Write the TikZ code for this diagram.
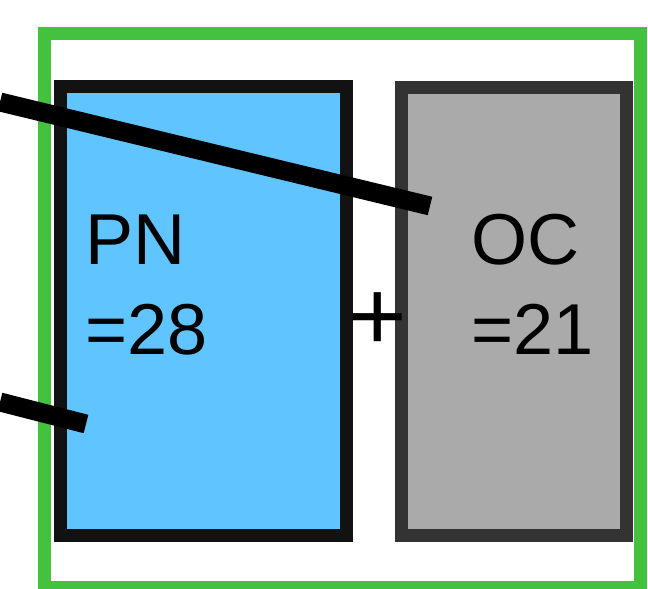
\documentclass[tikz,border=0pt]{standalone}
\usepackage{fontspec}
\setmainfont{Liberation Sans}
\usepackage{tikz}
\usetikzlibrary{positioning}

\definecolor{framegreen}{RGB}{68,194,63}
\definecolor{pnblue}{RGB}{96,197,255}
\definecolor{ocgray}{RGB}{170,170,170}

\begin{document}
\begin{tikzpicture}[x=0.01cm, y=-0.01cm,
    box/.style={draw, rectangle, line width=3.7pt, inner sep=0pt},
    boxtext/.style={anchor=base west, align=left, inner sep=0pt, font=\fontsize{20.5}{25.6}\selectfont},
    wire/.style={line width=5.4pt, line cap=butt}]
  \useasboundingbox (0,0) rectangle (648,589);
  % frame and the two boxes
  \node[box, draw=framegreen, minimum width=5.95cm, minimum height=5.53cm] (frame) at (342.5,310.5) {};
  \node[box, draw=black!93, fill=pnblue, minimum width=2.85cm, minimum height=4.48cm] (pn) at (203.5,311) {};
  \node[box, draw=black!80, fill=ocgray, minimum width=2.24cm, minimum height=4.47cm] (oc) at (514,311.5) {};
  \node[boxtext] (pntext) at (85,355) {PN\\=28};
  \node[boxtext] (octext) at (471,355) {OC\\=21};
  \node[inner sep=0pt, font=\fontsize{28.5}{30}\selectfont] (plus) at (378,322) {+};
  % thick lines
  \coordinate (w1a) at (0,102);
  \coordinate (w1b) at (430,206);
  \coordinate (w2a) at (0,402);
  \coordinate (w2b) at (86,424);
  \draw[wire] (w1a) -- (w1b);
  \draw[wire] (w2a) -- (w2b);
\end{tikzpicture}
\end{document}
